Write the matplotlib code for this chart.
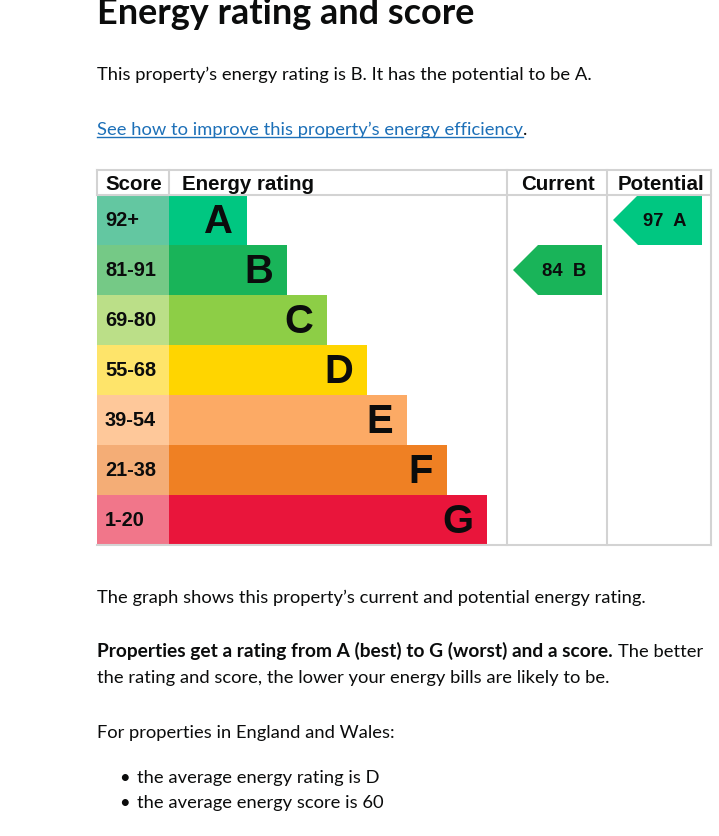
import matplotlib.pyplot as plt
from matplotlib.patches import Polygon

# Data
ratings = ['A', 'B', 'C', 'D', 'E', 'F', 'G']
score_ranges = ['92+', '81-91', '69-80', '55-68', '39-54', '21-38', '1-20']
band_min = [92, 81, 69, 55, 39, 21, 1]
bar_colors = ['#00c781', '#19b459', '#8dce46', '#ffd500', '#fcaa65', '#ef8023', '#e9153b']
score_colors = ['#63c7a1', '#75c986', '#bbdf88', '#fee46a', '#fec89a', '#f4ad76', '#f1768a']
current_score = 84
potential_score = 97

W, H = 719, 837
PX = 0.72  # px -> pt at dpi 100

body_font = 'Lato'
table_font = 'Liberation Sans'

fig = plt.figure(figsize=(W / 100, H / 100), dpi=100)
ax = fig.add_axes([0, 0, 1, 1])
ax.set_xlim(0, W)
ax.set_ylim(H, 0)
ax.axis('off')

# table layout
left = 97
score_w = 72
bar_x0 = left + score_w
top = 171
head_h = 25
row_h = 50
cur_x0, pot_x0, right = 507, 607, 711
y0 = top + head_h
bottom = y0 + row_h * len(ratings)
grid = '#d3d3d3'


def band(score):
    for i, m in enumerate(band_min):
        if score >= m:
            return i
    return len(ratings) - 1


# score cells and bars
centers = [y0 + row_h * (i + 0.5) for i in range(len(ratings))]
ax.barh(centers, [score_w] * len(ratings), left=left, height=row_h,
        color=score_colors, linewidth=0)
bar_len = [78 + 40 * i for i in range(len(ratings))]
ax.barh(centers, bar_len, left=bar_x0, height=row_h, color=bar_colors, linewidth=0)

for i, r in enumerate(ratings):
    ax.text(left + 8, centers[i] - 1, score_ranges[i], fontsize=20 * PX, fontweight='bold',
            family=table_font, va='center', ha='left', color='#0b0c0c')
    ax.text(bar_x0 + bar_len[i] - 14, centers[i] + 1, r, fontsize=40 * PX, fontweight='bold',
            family=table_font, va='center', ha='right', color='#0b0c0c')

# grid lines
lw = 1.5
ax.plot([left, right], [top, top], color=grid, lw=lw)
ax.plot([left, right], [y0, y0], color=grid, lw=lw)
ax.plot([left, right], [bottom, bottom], color=grid, lw=lw)
for x in (cur_x0, pot_x0, right):
    ax.plot([x, x], [top, bottom], color=grid, lw=lw)
for x in (left, bar_x0):
    ax.plot([x, x], [top, y0], color=grid, lw=lw)

# headers
hy = top + head_h / 2 + 1
hfs = 20.5 * PX
ax.text(left + 8, hy, 'Score', fontsize=hfs, fontweight='bold', family=table_font,
        va='center', ha='left', color='#0b0c0c')
ax.text(bar_x0 + 13, hy, 'Energy rating', fontsize=hfs, fontweight='bold',
        family=table_font, va='center', ha='left', color='#0b0c0c')
ax.text((cur_x0 + pot_x0) / 2 + 1, hy, 'Current', fontsize=hfs, fontweight='bold',
        family=table_font, va='center', ha='center', color='#0b0c0c')
ax.text((pot_x0 + right) / 2 + 2, hy, 'Potential', fontsize=hfs, fontweight='bold',
        family=table_font, va='center', ha='center', color='#0b0c0c')


# arrows
def arrow(col_x0, score):
    i = band(score)
    yt = y0 + row_h * i
    x_tip = col_x0 + 6
    x_r = col_x0 + 95
    pts = [(x_tip, yt + row_h / 2), (x_tip + row_h / 2, yt), (x_r, yt),
           (x_r, yt + row_h), (x_tip + row_h / 2, yt + row_h)]
    ax.add_patch(Polygon(pts, closed=True, color=bar_colors[i], lw=0))
    ax.text((x_tip + x_r) / 2 + 7, yt + row_h / 2, f'{score}  {ratings[i]}',
            fontsize=18.5 * PX, fontweight='bold', family=table_font,
            va='center', ha='center', color='#0b0c0c')


arrow(cur_x0, current_score)
arrow(pot_x0, potential_score)

# page text
txt = '#0b0c0c'
bfs = 18.4 * PX
ax.text(left, 24, 'Energy rating and score', fontsize=36 * PX, fontweight='bold',
        family=body_font, va='baseline', ha='left', color=txt)
ax.text(left, 80, 'This property\u2019s energy rating is B. It has the potential to be A.',
        fontsize=bfs, family=body_font, va='baseline', color=txt)
link = ax.text(left, 135, 'See how to improve this property\u2019s energy efficiency',
               fontsize=bfs, family=body_font, va='baseline', color='#1d70b8')

fig.canvas.draw()
rend = fig.canvas.get_renderer()
inv = ax.transData.inverted()


def right_edge(t):
    bb = t.get_window_extent(renderer=rend)
    return inv.transform((bb.x1, bb.y0))[0]


lx1 = right_edge(link)
ax.plot([left, lx1], [138, 138], color='#1d70b8', lw=1)
ax.text(lx1, 135, '.', fontsize=bfs, family=body_font, va='baseline', color=txt)

ax.text(left, 603, 'The graph shows this property\u2019s current and potential energy rating.',
        fontsize=bfs, family=body_font, va='baseline', color=txt)
bold = ax.text(left, 657, 'Properties get a rating from A (best) to G (worst) and a score.',
               fontsize=19.1 * PX, fontweight='bold', family=body_font, va='baseline', color=txt)
fig.canvas.draw()
bx1 = right_edge(bold)
ax.text(bx1 + 5, 657, 'The better', fontsize=bfs, family=body_font,
        va='baseline', color=txt)
ax.text(left, 683, 'the rating and score, the lower your energy bills are likely to be.',
        fontsize=bfs, family=body_font, va='baseline', color=txt)
ax.text(left, 738, 'For properties in England and Wales:', fontsize=bfs,
        family=body_font, va='baseline', color=txt)
for yb, s in [(783, 'the average energy rating is D'), (808, 'the average energy score is 60')]:
    ax.text(left + 22, yb - 5, '\u2022', fontsize=bfs, family=body_font,
            va='center', ha='left', color=txt)
    ax.text(left + 40, yb, s, fontsize=bfs, family=body_font, va='baseline', color=txt)

fig.savefig('out.png', dpi=100)
